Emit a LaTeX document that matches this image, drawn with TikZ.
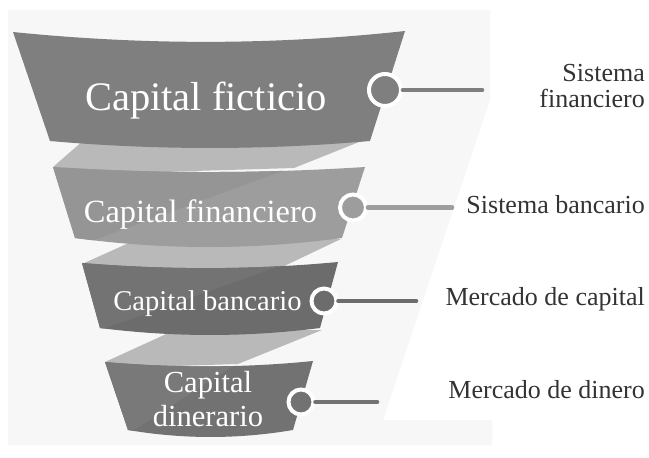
\documentclass[tikz,border=0pt]{standalone}
\usepackage{fontspec}
\setmainfont{Liberation Serif}
\definecolor{bgc}{HTML}{F7F7F7}
\definecolor{sega}{HTML}{7F7F7F}
\definecolor{segb}{HTML}{9D9D9D}
\definecolor{segbul}{HTML}{959595}
\definecolor{segc}{HTML}{6C6C6C}
\definecolor{segcul}{HTML}{737373}
\definecolor{segd}{HTML}{727272}
\definecolor{segdul}{HTML}{797979}
\definecolor{ribc}{HTML}{B9B9B9}
\definecolor{labc}{HTML}{333333}
\tikzset{
  dot/.style={circle, inner sep=0pt, draw=white, line width=4pt, fill=#1},
  lead/.style={line width=4.6pt, line cap=round, draw=#1},
  ftext/.style={text=white, inner sep=0pt},
  rlabel/.style={text=labc, inner sep=0pt, font=\fontsize{26}{26}\selectfont},
}
\def\pathsega{(13,32) .. controls (144,45.3) and (274,45.3) .. (405,31) -- (370,141) .. controls (264,150.3) and (156,150.3) .. (50,141) -- cycle}
\def\pathsegb{(53,167) .. controls (157,173.7) and (261,173.7) .. (365,167) -- (342,238) .. controls (253,250) and (164,250) .. (75,238) -- cycle}
\def\pathsegc{(82,263) .. controls (167,270) and (253,270) .. (338,262) -- (320,328) .. controls (247,337.3) and (173,337.3) .. (100,328) -- cycle}
\def\pathsegd{(105,362) .. controls (174,368) and (244,368) .. (313,361) -- (293,430) .. controls (238,439.3) and (183,439.3) .. (128,430) -- cycle}
\begin{document}
\begin{tikzpicture}[x=1pt, y=-1pt]
\useasboundingbox (0,0) rectangle (649,458);
\fill[white] (0,0) rectangle (649,458);
% background
\fill[bgc] (8,10) -- (490,10) -- (490,100) -- (383,420) -- (492,420) -- (492,445) -- (8,445) -- cycle;
% ribbons
\fill[ribc] (53,167) -- (84,140) -- (364,140) -- (294,168) -- (60,175) -- cycle;
\fill[ribc] (82,264) -- (140,238) -- (341,239) -- (280,268) -- (90,272) -- cycle;
\fill[ribc] (105,362) -- (175,330) -- (322,330) -- (238,364) -- (112,368) -- cycle;
% segments
\fill[sega] \pathsega;
\fill[segb] \pathsegb;
\begin{scope}
  \clip \pathsegb;
  \fill[segbul] (321,157) -- (53,255) -- (0,255) -- (0,157) -- cycle;
\end{scope}
\fill[segc] \pathsegc;
\begin{scope}
  \clip \pathsegc;
  \fill[segcul] (308,256) -- (72,340) -- (0,340) -- (0,256) -- cycle;
\end{scope}
\fill[segd] \pathsegd;
\begin{scope}
  \clip \pathsegd;
  \fill[segdul] (255,352) -- (114,443) -- (0,443) -- (0,352) -- cycle;
\end{scope}
% funnel texts
\node[ftext, anchor=base, font=\fontsize{40.5}{40.5}\selectfont] (t1) at (206,110) {Capital ficticio};
\node[ftext, anchor=base, font=\fontsize{32.4}{32.4}\selectfont] (t2) at (200.5,222) {Capital financiero};
\node[ftext, anchor=base, font=\fontsize{28.6}{28.6}\selectfont] (t3) at (207.5,310) {Capital bancario};
\node[ftext, anchor=center, align=center, font=\fontsize{30.6}{34}\selectfont] (t4) at (208,399.5) {Capital\\dinerario};
% dots and leads
\node[dot=sega, minimum size=32pt] (c1) at (385,90) {};
\node[dot=segb, minimum size=26pt] (c2) at (353,207.5) {};
\node[dot=segc, minimum size=25pt] (c3) at (324,301) {};
\node[dot=segd, minimum size=25pt] (c4) at (301,402) {};
\coordinate (e1) at (482,90);
\coordinate (e2) at (452,207.5);
\coordinate (e3) at (416,301);
\coordinate (e4) at (377,402);
\draw[lead=sega] (c1.east) -- (e1);
\draw[lead=segb] (c2.east) -- (e2);
\draw[lead=segc] (c3.east) -- (e3);
\draw[lead=segd] (c4.east) -- (e4);
% right labels
\node[rlabel, anchor=east, align=right] (l1) at (645,86) {Sistema\\financiero};
\node[rlabel, anchor=base east] (l2) at (645,213) {Sistema bancario};
\node[rlabel, anchor=base east] (l3) at (645,305) {Mercado de capital};
\node[rlabel, anchor=base east] (l4) at (645,398) {Mercado de dinero};
\end{tikzpicture}
\end{document}
